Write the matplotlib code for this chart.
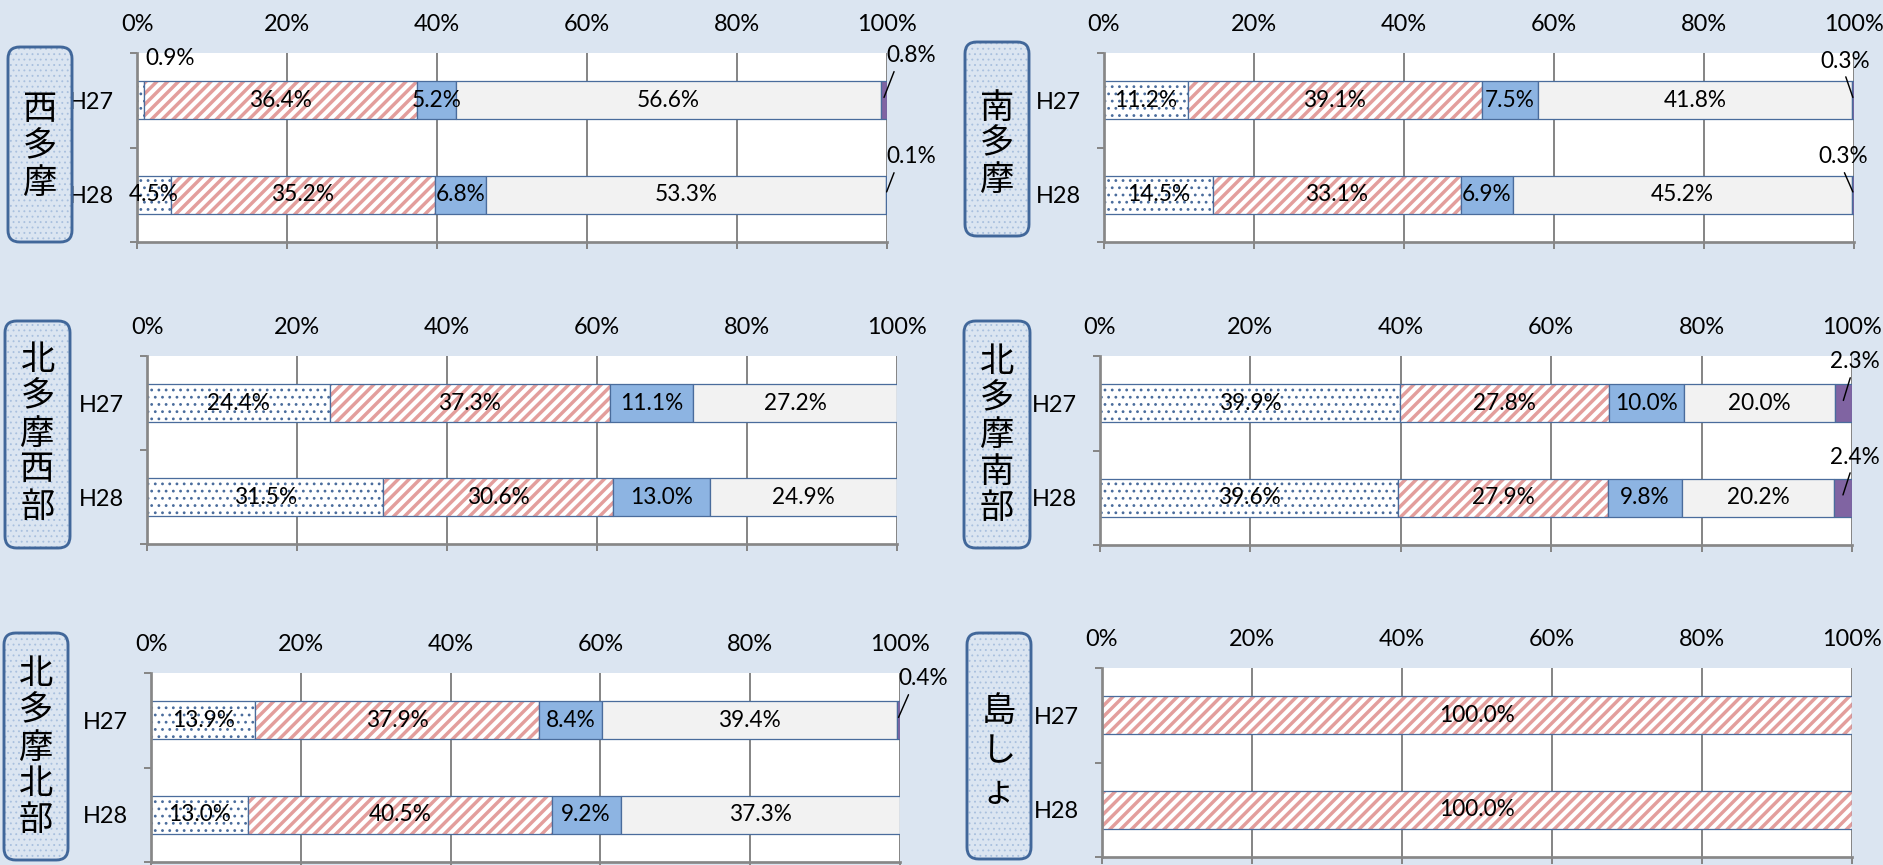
import matplotlib.pyplot as plt
from matplotlib.patches import FancyBboxPatch

plt.rcParams['font.family'] = ['Lato', 'DejaVu Sans']

W, H, DPI = 1883, 865, 130

years = ['H27', 'H28']
ticks = [0, 20, 40, 60, 80, 100]

# shares (%) per year: dotted, striped, light blue, grey, purple
nishitama = [[0.9, 36.4, 5.2, 56.6, 0.8], [4.5, 35.2, 6.8, 53.3, 0.1]]
minamitama = [[11.2, 39.1, 7.5, 41.8, 0.3], [14.5, 33.1, 6.9, 45.2, 0.3]]
kita_seibu = [[24.4, 37.3, 11.1, 27.2, 0.0], [31.5, 30.6, 13.0, 24.9, 0.0]]
kita_nanbu = [[39.9, 27.8, 10.0, 20.0, 2.3], [39.6, 27.9, 9.8, 20.2, 2.4]]
kita_hokubu = [[13.9, 37.9, 8.4, 39.4, 0.4], [13.0, 40.5, 9.2, 37.3, 0.0]]
tosho = [[0.0, 100.0, 0.0, 0.0, 0.0], [0.0, 100.0, 0.0, 0.0, 0.0]]

EDGE = '#4a6c9c'
STRIPE = '#e39e9c'
GRID = '#878787'
BG = '#dbe5f1'
fills = ['white', 'white', '#8db4e2', '#f2f2f2', '#8064a2']
LAB = 12.5

# panel layout in pixels: (left, right, top, bottom), label box (x0, x1, y0, y1), char centres
panels = [
    ('西多摩', nishitama, (137, 887, 53, 242), (8, 72, 47, 242), [110, 147, 183]),
    ('南多摩', minamitama, (1104, 1854, 53, 242), (965, 1029, 42, 236), [108, 144, 180]),
    ('北多摩西部', kita_seibu, (147, 897, 356, 544), (5, 70, 321, 548), [361, 397, 434, 470, 507]),
    ('北多摩南部', kita_nanbu, (1100, 1852, 356, 545), (964, 1030, 321, 548), [363, 399, 435, 472, 508]),
    ('北多摩北部', kita_hokubu, (151, 900, 673, 862), (4, 68, 633, 860), [675, 711, 748, 784, 820]),
    ('島しょ', tosho, (1102, 1852, 668, 857), (967, 1031, 633, 859), [711, 752, 793]),
]

# labels placed outside the bar: (row, series, text x, text y, relpos or None)
outside = {
    0: [(0, 0, 4.4, -0.44, None), (0, 4, 103.2, -0.47, (0.2, 0)), (1, 4, 103.2, 0.60, (0.2, 0))],
    1: [(0, 4, 98.8, -0.415, (0.45, 0.2)), (1, 4, 98.5, 0.60, (0.45, 0.2))],
    3: [(0, 4, 100.4, -0.437, (0.45, 0.1)), (1, 4, 100.4, 0.569, (0.45, 0.1))],
    4: [(0, 4, 103.1, -0.437, (0.25, 0))],
}

fig = plt.figure(figsize=(W / DPI, H / DPI), dpi=DPI, facecolor=BG)


def hatch_lw(artists, lw):
    # hatch line width is an rcParam; apply it at creation and at draw time
    for a in artists:
        if hasattr(a, 'set_hatch_linewidth'):
            a.set_hatch_linewidth(lw)
        orig = a.draw

        def draw(renderer, orig=orig):
            with plt.rc_context({'hatch.linewidth': lw}):
                orig(renderer)
        a.draw = draw


def seg(ax, r, left, w, k):
    if k == 0:
        b = ax.barh(r, w, left=left, height=0.4, color='white', edgecolor=EDGE, hatch='...', lw=0.7)
        hatch_lw(b, 0.75)
    elif k == 1:
        b = ax.barh(r, w, left=left, height=0.4, color='white', edgecolor=STRIPE, hatch='////', lw=0)
        hatch_lw(b, 1.9)
        ax.barh(r, w, left=left, height=0.4, fill=False, edgecolor=EDGE, lw=0.7)
    else:
        ax.barh(r, w, left=left, height=0.4, color=fills[k], edgecolor=EDGE, lw=0.7)


for i, (name, rows, (l, rgt, t, b), (bx0, bx1, by0, by1), cy) in enumerate(panels):
    ax = fig.add_axes([l / W, 1 - b / H, (rgt - l) / W, (b - t) / H])
    ax.set_facecolor('white')
    ax.set_xlim(0, 100)
    ax.set_ylim(1.5, -0.5)
    ax.set_axisbelow(True)
    ax.xaxis.grid(True, color=GRID, lw=1.1)
    ax.set_xticks(ticks)
    ax.set_xticklabels([f'{x}%' for x in ticks], fontsize=13)
    ax.tick_params(axis='x', bottom=True, top=False, labelbottom=False, labeltop=True,
                   length=4, width=1.1, color=GRID, pad=6)
    ax.set_yticks([-0.5, 0.5, 1.5])
    ax.set_yticklabels([])
    ax.set_yticks([0, 1], minor=True)
    ax.set_yticklabels(years, minor=True, fontsize=13)
    ax.tick_params(axis='y', which='major', length=4, width=1.1, color=GRID)
    ax.tick_params(axis='y', which='minor', length=0, pad=13)
    for s in ['top', 'right']:
        ax.spines[s].set_visible(False)
    for s in ['left', 'bottom']:
        ax.spines[s].set_color(GRID)
        ax.spines[s].set_linewidth(1.5)

    out = {(o[0], o[1]): o for o in outside.get(i, [])}
    for r, vals in enumerate(rows):
        total = sum(vals)
        left = 0.0
        for k, v in enumerate(vals):
            w = v / total * 100
            if w <= 0:
                continue
            seg(ax, r, left, w, k)
            lab = f'{v:.1f}%'
            if (r, k) in out:
                _, _, tx, ty, rel = out[(r, k)]
                if rel is None:
                    ax.text(tx, ty, lab, ha='center', va='center', fontsize=LAB, clip_on=False)
                else:
                    ax.annotate(lab, xy=(left + w / 2, r - 0.03), xytext=(tx, ty),
                                ha='center', va='center', fontsize=LAB, annotation_clip=False,
                                arrowprops=dict(arrowstyle='-', color='black', lw=0.8,
                                                relpos=rel, shrinkA=1, shrinkB=0))
            else:
                ax.text(left + w / 2, r, lab, ha='center', va='center', fontsize=LAB)
            left += w

    # vertical name box
    dots = FancyBboxPatch((bx0 / DPI, (H - by1) / DPI), (bx1 - bx0) / DPI, (by1 - by0) / DPI,
                          boxstyle='round,pad=0,rounding_size=0.09', transform=fig.dpi_scale_trans,
                          facecolor=BG, edgecolor='#a9c0de', hatch='....', lw=0)
    hatch_lw([dots], 0.5)
    fig.patches.append(dots)
    frame = FancyBboxPatch((bx0 / DPI, (H - by1) / DPI), (bx1 - bx0) / DPI, (by1 - by0) / DPI,
                           boxstyle='round,pad=0,rounding_size=0.09', transform=fig.dpi_scale_trans,
                           fill=False, edgecolor='#41679a', lw=1.6)
    fig.patches.append(frame)
    cx = (bx0 + bx1) / 2
    for ch, y in zip(name, cy):
        fig.text(cx / DPI, (H - y) / DPI, ch, transform=fig.dpi_scale_trans, ha='center',
                 va='center', fontsize=19, family=['Noto Sans CJK JP', 'DejaVu Sans'])

fig.savefig('out.png', dpi=DPI, facecolor=BG)
